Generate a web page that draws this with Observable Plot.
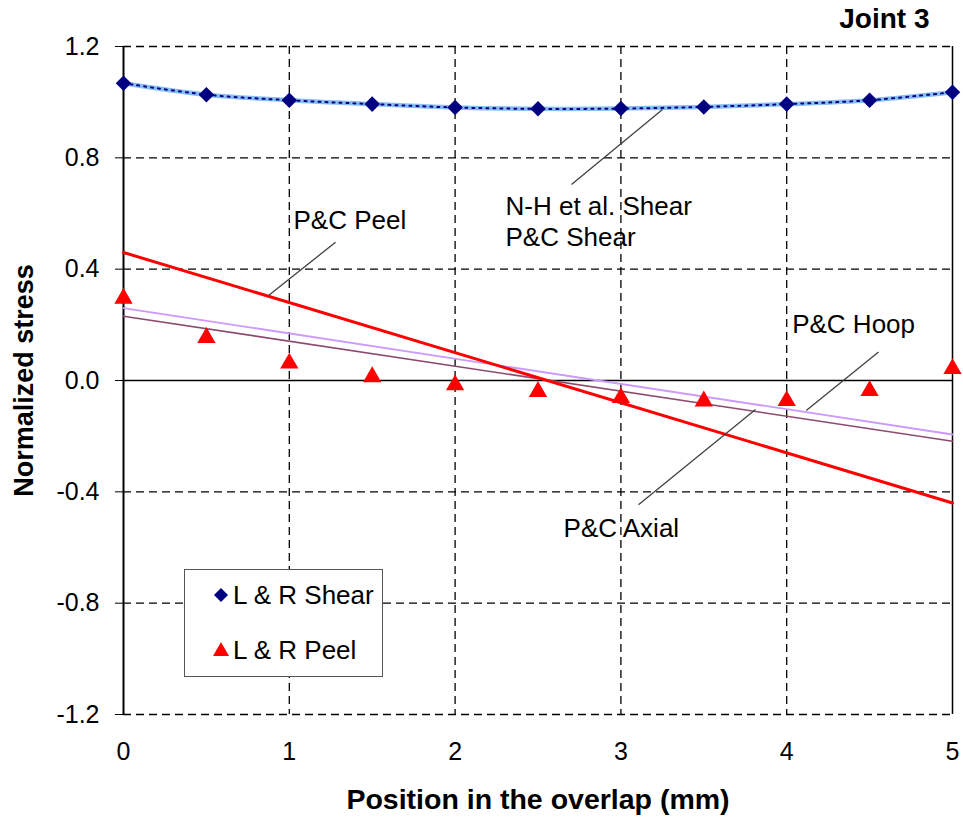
<!DOCTYPE html>
<html>
<head>
<meta charset="utf-8">
<script src="https://cdn.jsdelivr.net/npm/d3@7"></script>
<script src="https://cdn.jsdelivr.net/npm/@observablehq/plot@0.6"></script>
<style>
  html, body { margin: 0; padding: 0; background: #fff; }
  #wrap { position: relative; width: 963px; height: 823px; font-family: "Liberation Sans", Arial, sans-serif; }
  #legend { position: absolute; left: 184px; top: 569px; width: 197px; height: 106px; border: 1.5px solid #555; background: #fff; }
  .li { position: absolute; left: 0; font-size: 26px; color: #000; white-space: nowrap; }
  .li svg { position: absolute; left: 25px; }
  .li span { position: absolute; left: 48px; }
</style>
</head>
<body>
<div id="wrap"></div>
<script>
// ---- data ----
const positions = [0, 0.5, 1, 1.5, 2, 2.5, 3, 3.5, 4, 4.5, 5];
const lrShear   = [1.068, 1.027, 1.007, 0.993, 0.981, 0.976, 0.977, 0.983, 0.993, 1.007, 1.036];
const lrPeel    = [0.295, 0.154, 0.062, 0.013, -0.016, -0.040, -0.062, -0.074, -0.073, -0.037, 0.042];
const pcShear   = [1.068, 1.027, 1.007, 0.993, 0.981, 0.976, 0.977, 0.983, 0.993, 1.007, 1.036];
const lineEnds  = [0, 5];
const pcPeel    = [0.46, -0.44];
const pcHoop    = [0.26, -0.194];
const pcAxial   = [0.231, -0.218];
const yTicks    = [-1.2, -0.8, -0.4, 0.0, 0.4, 0.8, 1.2];
const xTicks    = [0, 1, 2, 3, 4, 5];

// annotation labels (data coordinates) and leader lines
const labelText = ["P&C Peel", "N-H et al. Shear", "P&C Shear", "P&C Hoop", "P&C Axial"];
const labelX    = [1.025, 2.304, 2.304, 4.033, 2.654];
const labelY    = [0.543, 0.593, 0.485, 0.172, -0.564];
const leaderX1  = [0.875, 2.702, 4.554, 3.106];
const leaderY1  = [0.305, 0.704, 0.102, -0.446];
const leaderX2  = [1.279, 3.251, 4.118, 3.812];
const leaderY2  = [0.497, 0.974, -0.108, -0.104];

const shearPts = positions.map((x, i) => ({x, y: lrShear[i]}));
const shearCurve = positions.map((x, i) => ({x, y: pcShear[i]}));
const peelPts = positions.map((x, i) => ({x, y: lrPeel[i]}));
const mkLine = arr => lineEnds.map((x, i) => ({x, y: arr[i]}));
const labels = labelText.map((t, i) => ({t, x: labelX[i], y: labelY[i]}));
const leaders = leaderX1.map((x, i) => ({x1: x, y1: leaderY1[i], x2: leaderX2[i], y2: leaderY2[i]}));

const font = "Liberation Sans, Arial, sans-serif";

const chart = Plot.plot({
  width: 963,
  height: 823,
  marginLeft: 123,
  marginRight: 11,
  marginTop: 46,
  marginBottom: 109,
  style: {fontFamily: font, background: "#fff"},
  x: {domain: [0, 5], ticks: xTicks},
  y: {domain: [-1.2, 1.2], ticks: yTicks},
  marks: [
    // gridlines
    Plot.ruleY(yTicks.filter(d => d !== 0), {stroke: "#000", strokeWidth: 1.3, strokeDasharray: "8,5"}),
    Plot.ruleX(xTicks.filter(d => d > 0 && d < 5), {stroke: "#000", strokeWidth: 1.3, strokeDasharray: "8,5"}),
    Plot.ruleX([5], {stroke: "#000", strokeWidth: 1.5}),
    Plot.ruleY([0], {stroke: "#000", strokeWidth: 1.5}),
    Plot.ruleX([0], {stroke: "#000", strokeWidth: 2}),
    // axes
    Plot.axisY({ticks: yTicks, tickSize: 8, tickPadding: 16, tickFormat: d => d.toFixed(1), fontSize: 25, label: null, stroke: "#000", color: "#000"}),
    Plot.axisX({ticks: xTicks, tickSize: 0, tickPadding: 28, tickFormat: d => String(d), fontSize: 25, label: null, color: "#000"}),
    Plot.text(["Normalized stress"], {frameAnchor: "left", textAnchor: "middle", lineAnchor: "middle", dx: -99, rotate: -90, fontSize: 27, fontWeight: "bold", fill: "#000"}),
    Plot.text(["Position in the overlap (mm)"], {frameAnchor: "bottom", textAnchor: "middle", dy: 94, fontSize: 28.5, fontWeight: "bold", fill: "#000", lineAnchor: "bottom"}),
    Plot.text(["Joint 3"], {frameAnchor: "top-right", textAnchor: "end", lineAnchor: "bottom", dx: -23, dy: -19, fontSize: 28, fontWeight: "bold", fill: "#000"}),
    // series lines
    Plot.line(mkLine(pcHoop), {x: "x", y: "y", stroke: "#cc99ff", strokeWidth: 1.8}),
    Plot.line(mkLine(pcAxial), {x: "x", y: "y", stroke: "#8e4a6e", strokeWidth: 1.6}),
    Plot.line(mkLine(pcPeel), {x: "x", y: "y", stroke: "#ff0000", strokeWidth: 3}),
    Plot.line(shearCurve, {x: "x", y: "y", stroke: "#86bdf5", strokeWidth: 4.5, curve: "catmull-rom"}),
    Plot.line(shearCurve, {x: "x", y: "y", stroke: "#000080", strokeWidth: 2, strokeDasharray: "2,5", curve: "catmull-rom"}),
    // markers
    Plot.dot(shearPts, {x: "x", y: "y", symbol: "diamond2", r: 7, fill: "#000080", stroke: "none"}),
    Plot.dot(peelPts, {x: "x", y: "y", symbol: "triangle", r: 6.8, fill: "#ff0000", stroke: "none"}),
    // annotations
    Plot.link(leaders, {x1: "x1", y1: "y1", x2: "x2", y2: "y2", stroke: "#404040", strokeWidth: 1.3}),
    Plot.text(labels, {x: "x", y: "y", text: "t", textAnchor: "start", lineAnchor: "bottom", fontSize: 26, fill: "#000"})
  ]
});

const wrap = document.getElementById("wrap");
wrap.appendChild(chart);

const legend = document.createElement("div");
legend.id = "legend";
legend.innerHTML = `
  <div class="li" style="top:10px;height:30px;">
    <svg width="22" height="30" style="top:0"><path d="M11,8 L18,15 L11,22 L4,15 Z" fill="#000080"/></svg>
    <span style="top:0">L &amp; R Shear</span>
  </div>
  <div class="li" style="top:65px;height:30px;">
    <svg width="22" height="30" style="top:0"><path d="M11,7 L19,21 L3,21 Z" fill="#ff0000"/></svg>
    <span style="top:0">L &amp; R Peel</span>
  </div>`;
wrap.appendChild(legend);
</script>
</body>
</html>
